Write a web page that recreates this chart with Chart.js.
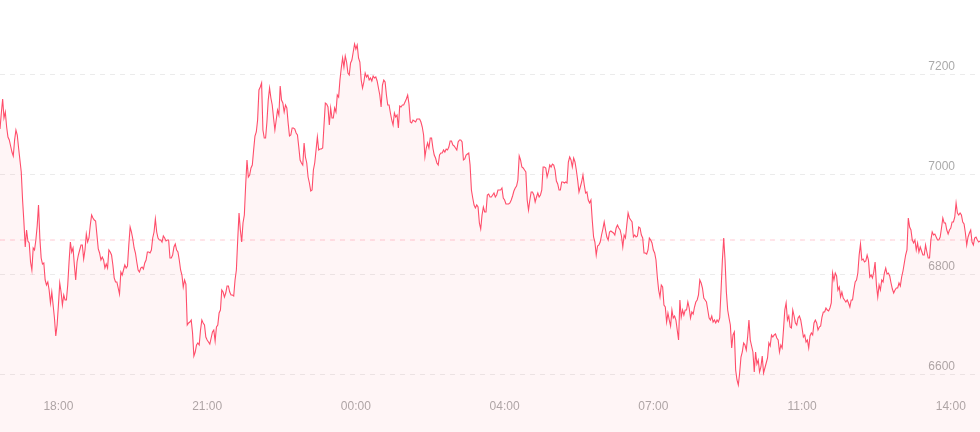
<!DOCTYPE html>
<html>
<head>
<meta charset="utf-8">
<script src="https://cdn.jsdelivr.net/npm/chart.js@4.4.1/dist/chart.umd.min.js"></script>
<style>
  html, body { margin: 0; padding: 0; background: #fff; }
  #wrap { width: 980px; height: 432px; position: relative; }
</style>
</head>
<body>
<div id="wrap"><canvas id="priceChart"></canvas></div>
<script>
const tickLabels = ['18:00', '21:00', '00:00', '04:00', '07:00', '11:00', '14:00'];
const tickIndexes = [44, 156, 268, 380, 492, 604, 716];
const yTicks = [6600, 6800, 7000, 7200];
const refLevel = 6868;

const prices = [
  7090, 7122, 7150, 7112, 7124, 7094, 7074, 7068, 7056, 7044, 7036, 7068, 7088, 7078, 7052, 7028, 7004, 6948, 6904, 6854,
  6888, 6866, 6862, 6824, 6808, 6852, 6848, 6868, 6896, 6938, 6872, 6832, 6820, 6822, 6788, 6778, 6784, 6768, 6742, 6764,
  6738, 6712, 6676, 6698, 6738, 6782, 6764, 6738, 6758, 6748, 6748, 6778, 6824, 6864, 6844, 6852, 6818, 6788, 6824, 6838,
  6848, 6858, 6858, 6830, 6848, 6880, 6864, 6872, 6898, 6918, 6912, 6908, 6906, 6878, 6850, 6842, 6828, 6834, 6828, 6812,
  6820, 6812, 6848, 6844, 6838, 6818, 6792, 6784, 6784, 6772, 6760, 6804, 6798, 6808, 6818, 6812, 6816, 6858, 6894, 6884,
  6870, 6852, 6842, 6824, 6808, 6804, 6812, 6814, 6810, 6822, 6828, 6844, 6844, 6842, 6848, 6872, 6884, 6910, 6884, 6872,
  6868, 6868, 6864, 6876, 6872, 6866, 6868, 6868, 6832, 6832, 6838, 6854, 6860, 6848, 6844, 6828, 6808, 6798, 6774, 6788,
  6780, 6698, 6702, 6704, 6708, 6682, 6636, 6644, 6658, 6662, 6658, 6688, 6708, 6702, 6698, 6674, 6668, 6664, 6660, 6672,
  6684, 6688, 6666, 6694, 6698, 6722, 6728, 6768, 6764, 6754, 6762, 6776, 6776, 6764, 6758, 6758, 6756, 6788, 6808, 6868,
  6922, 6888, 6864, 6902, 6918, 6978, 7028, 6994, 6998, 7012, 7018, 7048, 7076, 7084, 7108, 7168, 7174, 7182, 7088, 7072,
  7072, 7104, 7148, 7172, 7152, 7138, 7112, 7088, 7108, 7128, 7118, 7176, 7148, 7142, 7124, 7138, 7132, 7102, 7076, 7078,
  7092, 7092, 7090, 7082, 7078, 7054, 7028, 7022, 7018, 7062, 7034, 7022, 6994, 6982, 6966, 6968, 7008, 7022, 7048, 7074,
  7048, 7050, 7050, 7052, 7098, 7142, 7140, 7134, 7098, 7132, 7112, 7112, 7132, 7124, 7158, 7154, 7188, 7212, 7232, 7214,
  7236, 7224, 7202, 7198, 7222, 7228, 7244, 7260, 7250, 7258, 7232, 7224, 7188, 7172, 7184, 7202, 7194, 7198, 7188, 7192,
  7186, 7196, 7192, 7194, 7186, 7172, 7158, 7134, 7178, 7188, 7184, 7158, 7138, 7138, 7122, 7108, 7098, 7122, 7114, 7118,
  7092, 7136, 7134, 7138, 7138, 7144, 7150, 7158, 7140, 7104, 7102, 7108, 7106, 7104, 7110, 7110, 7110, 7104, 7094, 7078,
  7034, 7052, 7062, 7052, 7072, 7072, 7052, 7038, 7032, 7022, 7018, 7038, 7042, 7042, 7048, 7044, 7050, 7048, 7054, 7066,
  7066, 7058, 7056, 7052, 7048, 7064, 7068, 7068, 7064, 7028, 7030, 7038, 7040, 7042, 7018, 6968, 6952, 6938, 6932, 6938,
  6934, 6902, 6890, 6918, 6934, 6924, 6924, 6958, 6960, 6954, 6954, 6958, 6962, 6954, 6958, 6968, 6968, 6968, 6972, 6952,
  6948, 6940, 6940, 6940, 6942, 6948, 6956, 6966, 6972, 6976, 6988, 7036, 7028, 7014, 7012, 7008, 7004, 6948, 6928, 6948,
  6964, 6964, 6958, 6944, 6954, 6962, 6954, 6958, 6968, 7014, 7014, 7012, 6994, 7004, 7018, 7014, 7020, 7018, 7008, 6986,
  6980, 6968, 6968, 6984, 6984, 6982, 6984, 6982, 7024, 7034, 7028, 7014, 7032, 7024, 7008, 6988, 6964, 6974, 6984, 6998,
  6978, 6962, 6964, 6948, 6942, 6948, 6908, 6874, 6864, 6838, 6856, 6858, 6864, 6878, 6890, 6904, 6888, 6874, 6868, 6884,
  6886, 6884, 6882, 6878, 6892, 6898, 6892, 6888, 6876, 6854, 6878, 6872, 6898, 6922, 6912, 6908, 6904, 6874, 6878, 6874,
  6876, 6894, 6892, 6878, 6872, 6842, 6842, 6840, 6848, 6872, 6868, 6862, 6848, 6842, 6828, 6794, 6768, 6754, 6778, 6774,
  6738, 6734, 6704, 6722, 6708, 6696, 6728, 6712, 6716, 6708, 6688, 6668, 6748, 6714, 6728, 6718, 6728, 6728, 6744, 6732,
  6712, 6724, 6720, 6734, 6744, 6748, 6758, 6788, 6782, 6772, 6752, 6748, 6744, 6728, 6712, 6708, 6716, 6704, 6708, 6702,
  6708, 6704, 6712, 6768, 6828, 6872, 6828, 6764, 6728, 6712, 6698, 6652, 6678, 6684, 6608, 6588, 6578, 6602, 6634, 6644,
  6662, 6658, 6648, 6674, 6708, 6668, 6656, 6644, 6604, 6644, 6620, 6628, 6604, 6614, 6636, 6602, 6612, 6622, 6632, 6662,
  6656, 6678, 6674, 6678, 6680, 6672, 6668, 6644, 6658, 6652, 6688, 6728, 6742, 6708, 6716, 6694, 6692, 6728, 6716, 6702,
  6698, 6712, 6716, 6708, 6692, 6674, 6678, 6664, 6668, 6652, 6676, 6682, 6678, 6702, 6708, 6702, 6688, 6694, 6696, 6714,
  6724, 6724, 6732, 6728, 6726, 6732, 6742, 6802, 6788, 6802, 6796, 6768, 6774, 6754, 6764, 6752, 6748, 6744, 6748, 6742,
  6734, 6748, 6748, 6768, 6784, 6788, 6802, 6838, 6860, 6828, 6830, 6824, 6826, 6838, 6828, 6794, 6798, 6792, 6804, 6824,
  6778, 6754, 6778, 6768, 6788, 6784, 6802, 6812, 6800, 6802, 6796, 6782, 6770, 6762, 6768, 6772, 6772, 6782, 6776, 6794,
  6806, 6822, 6838, 6848, 6912, 6894, 6888, 6868, 6862, 6868, 6848, 6862, 6844, 6854, 6846, 6838, 6838, 6858, 6844, 6832,
  6832, 6868, 6884, 6878, 6880, 6874, 6868, 6868, 6874, 6892, 6912, 6902, 6902, 6888, 6880, 6888, 6892, 6904, 6904, 6914,
  6942, 6922, 6918, 6922, 6918, 6904, 6900, 6882, 6858, 6874, 6882, 6888, 6864, 6858, 6872, 6874, 6868, 6864, 6866
];

const labels = prices.map((_, i) => {
  const k = tickIndexes.indexOf(i);
  return k >= 0 ? tickLabels[k] : '';
});

const tickFont = { family: '"Liberation Sans", Arial, sans-serif', size: 12 };

// labels sit inside the plot, so the axes must not eat any layout space
function noPadding(scale) {
  scale.paddingLeft = 0;
  scale.paddingRight = 0;
  scale.paddingTop = 0;
  scale.paddingBottom = 0;
}

new Chart(document.getElementById('priceChart'), {
  type: 'line',
  data: {
    labels,
    datasets: [
      {
        data: prices,
        borderColor: '#ff4d6a',
        borderWidth: 1.1,
        backgroundColor: 'rgba(255, 77, 106, 0.06)',
        fill: 'start',
        pointRadius: 0,
        tension: 0
      },
      {
        data: prices.map(() => refLevel),
        borderColor: '#ffc6d0',
        borderWidth: 1,
        borderDash: [5, 5],
        pointRadius: 0,
        fill: false
      }
    ]
  },
  options: {
    animation: false,
    responsive: true,
    maintainAspectRatio: false,
    layout: { padding: 0 },
    plugins: { legend: { display: false }, tooltip: { enabled: false } },
    scales: {
      x: {
        position: { y: 6560 },
        afterFit: noPadding,
        grid: { display: false, drawTicks: false },
        border: { display: false },
        ticks: { autoSkip: false, maxRotation: 0, padding: 5, color: '#aaaaaa', font: tickFont }
      },
      y: {
        position: 'right',
        min: 6484,
        max: 7348,
        afterBuildTicks: (scale) => { scale.ticks = yTicks.map((v) => ({ value: v })); },
        afterFit: (scale) => { noPadding(scale); scale.width = 0; },
        grid: { color: '#ebebeb', drawTicks: false },
        border: { display: false, dash: [5, 5] },
        ticks: {
          mirror: true,
          padding: -25,
          labelOffset: -7,
          color: '#aaaaaa',
          font: tickFont,
          callback: (v) => String(v)
        }
      }
    }
  }
});
</script>
</body>
</html>
